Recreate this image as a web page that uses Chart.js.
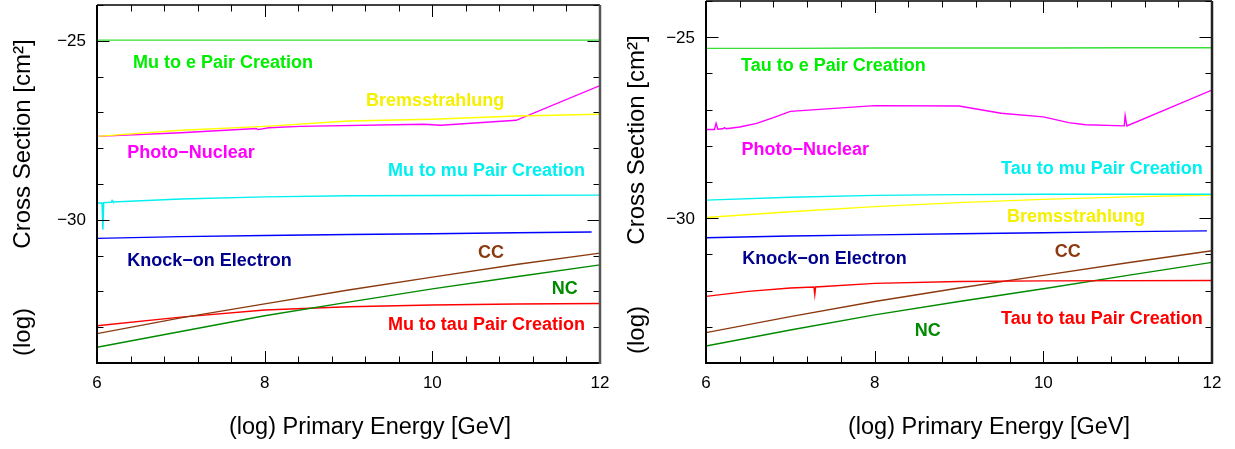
<!DOCTYPE html>
<html>
<head>
<meta charset="utf-8">
<script src="https://cdn.jsdelivr.net/npm/chart.js@4.4.1/dist/chart.umd.min.js"></script>
<style>
  html, body { margin: 0; padding: 0; background: #fff; }
  body { width: 1235px; height: 449px; position: relative; overflow: hidden; }
  canvas { position: absolute; top: 0; }
  #muChart { left: 0; }
  #tauChart { left: 615px; }
</style>
</head>
<body>
<canvas id="muChart" width="615" height="449"></canvas>
<canvas id="tauChart" width="620" height="449"></canvas>
<script>
// x: log10(primary energy / GeV), y: log10(cross section / cm^2)
const energyGrid = [6, 7, 8, 9, 10, 11, 12];
const xTickLabels = [6, 8, 10, 12];
const yTickLabels = [-25, -30];

// ---- muon (left panel) ----
const muPairE = [-24.98, -24.98, -24.98, -24.98, -24.98, -24.98, -24.98];
const muBrems = [-27.67, -27.5, -27.39, -27.24, -27.19, -27.1, -27.05];
const muPhotoX = [6, 7, 7.9, 7.92, 8.05, 8.42, 9.9, 10.1, 11, 12];
const muPhotoY = [-27.67, -27.57, -27.45, -27.48, -27.43, -27.39, -27.33, -27.36, -27.22, -26.25];
const muPairMuX = [6, 6.06, 6.07, 6.08, 6.17, 6.18, 6.19, 7, 8, 9, 10, 12];
const muPairMuY = [-29.53, -29.53, -30.28, -29.52, -29.51, -29.46, -29.5, -29.42, -29.36, -29.33, -29.32, -29.31];
const muKnockX = [6, 7, 8, 9, 10, 11, 11.9];
const muKnockY = [-30.52, -30.47, -30.44, -30.41, -30.39, -30.36, -30.34];
const muCC = [-33.18, -32.74, -32.35, -31.96, -31.6, -31.25, -30.93];
const muNC = [-33.56, -33.12, -32.68, -32.3, -31.93, -31.59, -31.26];
const muPairTau = [-32.96, -32.72, -32.52, -32.43, -32.38, -32.35, -32.34];

// ---- tau (right panel) ----
const tauPairE = [-25.31, -25.31, -25.3, -25.3, -25.3, -25.29, -25.29];
const tauPhotoX = [6, 6.1, 6.12, 6.14, 6.2, 6.22, 6.24, 6.4, 6.6, 6.8, 7, 8, 9, 9.5, 10, 10.3, 10.5, 10.96, 10.97, 10.99, 12];
const tauPhotoY = [-27.55, -27.55, -27.38, -27.54, -27.53, -27.5, -27.53, -27.48, -27.38, -27.22, -27.05, -26.89, -26.9, -27.1, -27.2, -27.36, -27.42, -27.45, -27.17, -27.45, -26.46];
const tauPairMu = [-29.5, -29.42, -29.37, -29.35, -29.34, -29.34, -29.34];
const tauBrems = [-29.98, -29.82, -29.68, -29.57, -29.48, -29.41, -29.36];
const tauKnockX = [6, 7, 8, 9, 10, 11, 11.94];
const tauKnockY = [-30.54, -30.49, -30.46, -30.43, -30.4, -30.37, -30.35];
const tauPairTauX = [6, 6.5, 7, 7.28, 7.29, 7.3, 8, 9, 10, 12];
const tauPairTauY = [-32.16, -32.02, -31.93, -31.9, -32.11, -31.9, -31.8, -31.75, -31.73, -31.72];
const tauCC = [-33.16, -32.72, -32.3, -31.93, -31.58, -31.23, -30.9];
const tauNC = [-33.53, -33.09, -32.67, -32.3, -31.95, -31.58, -31.22];

const muLabelText = ["Mu to e Pair Creation", "Bremsstrahlung", "Photo\u2212Nuclear", "Mu to mu Pair Creation",
  "Knock\u2212on Electron", "CC", "NC", "Mu to tau Pair Creation"];
const tauLabelText = ["Tau to e Pair Creation", "Photo\u2212Nuclear", "Tau to mu Pair Creation", "Bremsstrahlung",
  "Knock\u2212on Electron", "CC", "NC", "Tau to tau Pair Creation"];

const lineColor = {
  pairE: "#33e033", brems: "#ffff00", photo: "#ff00ff", pairMu: "#00f0f0",
  knock: "#0000ff", cc: "#8b3a0f", nc: "#008a00", pairTau: "#ff0000"
};
const textColor = {
  pairE: "#00ee00", brems: "#f5f000", photo: "#ff00ff", pairMu: "#00f0f0",
  knock: "#00008f", cc: "#8b3a0f", nc: "#008a00", pairTau: "#ff0000"
};

function pts(xs, ys) {
  return xs.map((x, i) => ({ x: x, y: ys[i] }));
}

function line(key, xs, ys) {
  return {
    data: pts(xs, ys),
    borderColor: lineColor[key],
    borderWidth: 1.4,
    pointRadius: 0,
    tension: 0,
    fill: false
  };
}

const FONT = "'Liberation Sans', Arial, Helvetica, sans-serif";

const plotFrame = {
  id: "plotFrame",
  afterDatasetsDraw(chart, args, o) {
    const ctx = chart.ctx;
    const a = chart.chartArea;
    const xs = chart.scales.x, ys = chart.scales.y;
    ctx.save();

    // curve labels
    ctx.font = "bold 18px " + FONT;
    ctx.textBaseline = "middle";
    o.labels.forEach(l => {
      ctx.fillStyle = textColor[l.key];
      ctx.textAlign = l.align;
      ctx.fillText(l.text, xs.getPixelForValue(l.x), ys.getPixelForValue(l.y));
    });

    // ticks
    ctx.strokeStyle = "#000";
    ctx.lineWidth = 1;
    ctx.beginPath();
    for (let i = 0; i <= 15; i++) {
      const v = 6 + i * 0.4;
      const px = Math.round(xs.getPixelForValue(v)) + 0.5;
      const len = i % 5 === 0 ? 12 : 6.5;
      ctx.moveTo(px, a.bottom); ctx.lineTo(px, a.bottom - len);
      ctx.moveTo(px, a.top); ctx.lineTo(px, a.top + len);
    }
    for (let v = -34; v <= -24; v++) {
      const py = Math.round(ys.getPixelForValue(v)) + 0.5;
      const len = v % 5 === 0 ? 12.5 : 6.5;
      ctx.moveTo(a.left, py); ctx.lineTo(a.left + len, py);
      ctx.moveTo(a.right, py); ctx.lineTo(a.right - len, py);
    }
    ctx.stroke();

    // frame
    ctx.lineWidth = 1.3;
    ctx.beginPath();
    ctx.moveTo(a.left, a.top); ctx.lineTo(a.right, a.top);
    ctx.stroke();
    ctx.lineWidth = 2;
    ctx.beginPath();
    ctx.moveTo(a.left, a.top); ctx.lineTo(a.left, a.bottom); ctx.lineTo(a.right, a.bottom);
    ctx.stroke();
    ctx.strokeStyle = o.rightColor;
    ctx.lineWidth = 2.5;
    ctx.beginPath();
    ctx.moveTo(a.right, a.top); ctx.lineTo(a.right, a.bottom + 1);
    ctx.stroke();

    // tick labels
    ctx.fillStyle = "#000";
    ctx.font = "17px " + FONT;
    ctx.textAlign = "center";
    ctx.textBaseline = "middle";
    xTickLabels.forEach(v => ctx.fillText(String(v), xs.getPixelForValue(v), a.bottom + 20));
    ctx.textAlign = "right";
    yTickLabels.forEach(v => ctx.fillText("\u2212" + Math.abs(v), a.left - 11, ys.getPixelForValue(v) + 1));

    // axis titles
    ctx.font = "23.5px " + FONT;
    ctx.textAlign = "center";
    ctx.fillText("(log) Primary Energy [GeV]", o.xTitleX, 428);
    ctx.save();
    ctx.translate(o.yTitleX, 0);
    ctx.rotate(-Math.PI / 2);
    ctx.font = "24px " + FONT;
    ctx.fillText("(log)", -o.logY, 0);
    ctx.fillText("Cross Section [cm\u00b2]", -o.csY, 0);
    ctx.restore();

    ctx.restore();
  }
};

function makeChart(id, datasets, pad, frameOpts) {
  return new Chart(document.getElementById(id), {
    type: "line",
    data: { datasets: datasets },
    options: {
      responsive: false,
      animation: false,
      devicePixelRatio: 1,
      layout: { padding: pad },
      plugins: { legend: { display: false }, tooltip: { enabled: false }, plotFrame: frameOpts },
      scales: {
        x: { type: "linear", min: 6, max: 12, display: false },
        y: { type: "linear", min: -34, max: -24, display: false }
      }
    },
    plugins: [plotFrame]
  });
}

makeChart("muChart", [
  line("pairE", energyGrid, muPairE),
  line("brems", energyGrid, muBrems),
  line("photo", muPhotoX, muPhotoY),
  line("pairMu", muPairMuX, muPairMuY),
  line("knock", muKnockX, muKnockY),
  line("cc", energyGrid, muCC),
  line("nc", energyGrid, muNC),
  line("pairTau", energyGrid, muPairTau)
], { left: 97, right: 15, top: 5, bottom: 86 }, {
  rightColor: "#555",
  xTitleX: 370, yTitleX: 23, logY: 332, csY: 144,
  labels: [
    { key: "pairE", text: muLabelText[0], x: 6.43, y: -25.61, align: "left" },
    { key: "brems", text: muLabelText[1], x: 9.21, y: -26.67, align: "left" },
    { key: "photo", text: muLabelText[2], x: 6.36, y: -28.14, align: "left" },
    { key: "pairMu", text: muLabelText[3], x: 11.82, y: -28.64, align: "right" },
    { key: "knock", text: muLabelText[4], x: 6.36, y: -31.14, align: "left" },
    { key: "cc", text: muLabelText[5], x: 10.7, y: -30.94, align: "center" },
    { key: "nc", text: muLabelText[6], x: 11.58, y: -31.92, align: "center" },
    { key: "pairTau", text: muLabelText[7], x: 11.82, y: -32.94, align: "right" }
  ]
});

makeChart("tauChart", [
  line("pairE", energyGrid, tauPairE),
  line("photo", tauPhotoX, tauPhotoY),
  line("pairMu", energyGrid, tauPairMu),
  line("brems", energyGrid, tauBrems),
  line("knock", tauKnockX, tauKnockY),
  line("pairTau", tauPairTauX, tauPairTauY),
  line("cc", energyGrid, tauCC),
  line("nc", energyGrid, tauNC)
], { left: 91, right: 23, top: 1, bottom: 86 }, {
  rightColor: "#222",
  xTitleX: 374, yTitleX: 22, logY: 330, csY: 140,
  labels: [
    { key: "pairE", text: tauLabelText[0], x: 6.415, y: -25.8, align: "left" },
    { key: "photo", text: tauLabelText[1], x: 6.42, y: -28.12, align: "left" },
    { key: "pairMu", text: tauLabelText[2], x: 11.89, y: -28.64, align: "right" },
    { key: "brems", text: tauLabelText[3], x: 9.57, y: -29.97, align: "left" },
    { key: "knock", text: tauLabelText[4], x: 6.43, y: -31.13, align: "left" },
    { key: "cc", text: tauLabelText[5], x: 10.29, y: -30.93, align: "center" },
    { key: "nc", text: tauLabelText[6], x: 8.63, y: -33.12, align: "center" },
    { key: "pairTau", text: tauLabelText[7], x: 11.89, y: -32.78, align: "right" }
  ]
});
</script>
</body>
</html>
